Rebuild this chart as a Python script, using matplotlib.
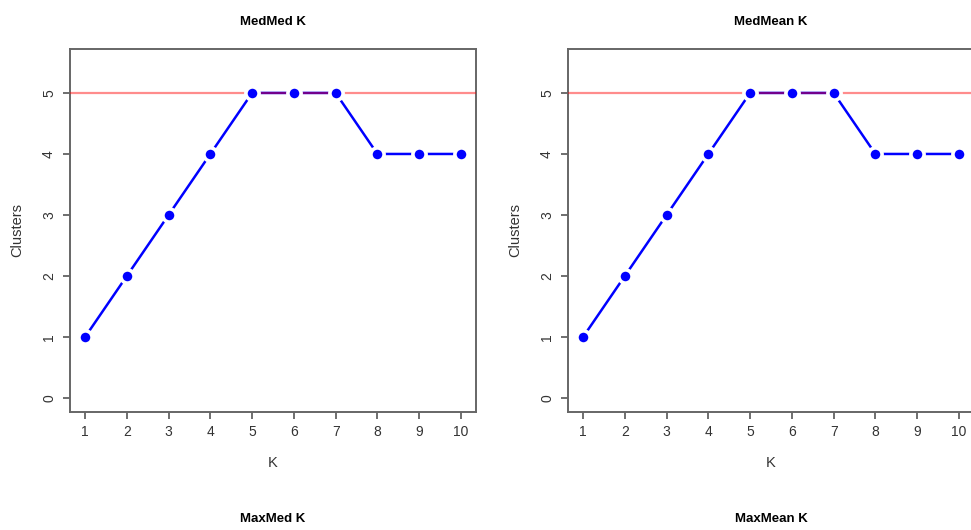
#!/usr/bin/env python3
"""Clusters found per K for the MedMed and MedMean criteria (R base-graphics look)."""

import matplotlib
matplotlib.use("Agg")
import matplotlib.pyplot as plt

K_VALUES = [1, 2, 3, 4, 5, 6, 7, 8, 9, 10]
MEDMED_CLUSTERS = [1, 2, 3, 4, 5, 5, 5, 4, 4, 4]
MEDMEAN_CLUSTERS = [1, 2, 3, 4, 5, 5, 5, 4, 4, 4]
TRUE_CLUSTERS = 5
TOP_TITLES = ["MedMed K", "MedMean K"]
BOTTOM_TITLES = ["MaxMed K", "MaxMean K"]

plt.rcParams["font.family"] = ["Liberation Sans", "DejaVu Sans"]

W, H = 971, 530
fig = plt.figure(figsize=(W / 100, H / 100), dpi=100)


def px_axes(left, top, right, bottom):
    return fig.add_axes([left / W, 1 - bottom / H, (right - left) / W, (bottom - top) / H])


def draw_panel(ax, ks, clusters, title):
    ax.plot(ks, clusters, color="#0000FF", lw=1.8, zorder=2)
    ax.axhline(TRUE_CLUSTERS, color=(1, 0, 0, 0.45), lw=1.6, zorder=3)
    ax.plot(ks, clusters, ls="none", marker="o", ms=9.5, mfc="#0000FF",
            mec="white", mew=2.6, zorder=4, clip_on=False)
    ax.set_xlim(0.64, 10.36)
    ax.set_ylim(-0.22, 5.72)
    ax.set_xticks(ks)
    ax.set_yticks(range(0, 6))
    ax.tick_params(axis="both", direction="out", length=5, width=1.2,
                   color="#555555", labelcolor="#333333", labelsize=10)
    ax.tick_params(axis="x", pad=5)
    ax.tick_params(axis="y", pad=5)
    for lab in ax.get_yticklabels():
        lab.set_rotation(90)
        lab.set_va("center")
    for sp in ax.spines.values():
        sp.set_color("#666666")
        sp.set_linewidth(1.4)
    ax.set_xlabel("K", fontsize=10.5, color="#333333", labelpad=12)
    ax.set_ylabel("Clusters", fontsize=10.5, color="#333333", labelpad=13)
    ax.set_title(title, fontsize=9.5, fontweight="bold", pad=17)


ax1 = px_axes(70, 49, 476, 411.5)
draw_panel(ax1, K_VALUES, MEDMED_CLUSTERS, TOP_TITLES[0])

ax2 = px_axes(568, 49, 974, 411.5)
draw_panel(ax2, K_VALUES, MEDMEAN_CLUSTERS, TOP_TITLES[1])

# titles of the lower row, whose panels fall below the visible area
fig.text(273 / W, 1 - 519 / H, BOTTOM_TITLES[0], ha="center", va="center",
         fontsize=9.5, fontweight="bold")
fig.text(771 / W, 1 - 519 / H, BOTTOM_TITLES[1], ha="center", va="center",
         fontsize=9.5, fontweight="bold")

fig.savefig("out.png", dpi=100)
